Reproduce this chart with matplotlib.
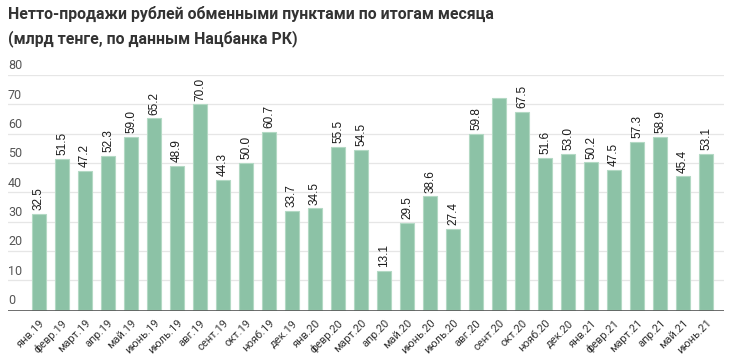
import matplotlib
matplotlib.use("Agg")
import matplotlib.pyplot as plt
import matplotlib.transforms as mtransforms

plt.rcParams['font.family'] = ['Roboto', 'DejaVu Sans']

months = ['янв.19', 'февр.19', 'март.19', 'апр.19', 'май.19', 'июнь.19',
          'июль.19', 'авг.19', 'сент.19', 'окт.19', 'нояб.19', 'дек.19',
          'янв.20', 'февр.20', 'март.20', 'апр.20', 'май.20', 'июнь.20',
          'июль.20', 'авг.20', 'сент.20', 'окт.20', 'нояб.20', 'дек.20',
          'янв.21', 'февр.21', 'март.21', 'апр.21', 'май.21', 'июнь.21']
values = [32.5, 51.5, 47.2, 52.3, 59.0, 65.2, 48.9, 70.0, 44.3, 50.0, 60.7, 33.7,
          34.5, 55.5, 54.5, 13.1, 29.5, 38.6, 27.4, 59.8, 72.0, 67.5, 51.6, 53.0,
          50.2, 47.5, 57.3, 58.9, 45.4, 53.1]
# в оригинале у сент.20 нет подписи
value_labels = ['32.5', '51.5', '47.2', '52.3', '59.0', '65.2', '48.9', '70.0',
                '44.3', '50.0', '60.7', '33.7', '34.5', '55.5', '54.5', '13.1',
                '29.5', '38.6', '27.4', '59.8', '', '67.5', '51.6', '53.0',
                '50.2', '47.5', '57.3', '58.9', '45.4', '53.1']
y_ticks = [0, 10, 20, 30, 40, 50, 60, 70, 80]

title_1 = 'Нетто-продажи рублей обменными пунктами по итогам месяца'
title_2 = '(млрд тенге, по данным Нацбанка РК)'

fig = plt.figure(figsize=(7.3, 3.6), dpi=100)
ax = fig.add_axes([8 / 730, 1 - 311 / 360, 716 / 730, (311 - 75) / 360])

x = list(range(len(values)))
ax.bar(x, values, width=0.61, color='#8cc2a6', edgecolor='#b3d9c4', linewidth=0.8, zorder=2)

ax.set_xlim(-1.348, 29.78)
ax.set_ylim(-0.5, 80)

# сетка
for t in y_ticks[1:]:
    ax.axhline(t, color='#e6e6e6', linewidth=0.9, zorder=0)
ax.axhline(-0.5, color='#555555', linewidth=1.2, zorder=3)

# подписи оси Y над линиями сетки
trans = mtransforms.blended_transform_factory(ax.transAxes, ax.transData)
for t in y_ticks:
    ax.text(0.0, t + 0.9, str(t), transform=trans, ha='left', va='bottom',
            fontsize=9, color='#555555')

# подписи значений
for xi, v, lab in zip(x, values, value_labels):
    if lab:
        ax.text(xi, v + 1.3, lab, rotation=90, ha='center', va='bottom',
                fontsize=8.5, color='#1a1a1a', family=['Liberation Sans', 'DejaVu Sans'])

ax.set_xticks(x)
ax.set_xticklabels(months, rotation=45, ha='right', rotation_mode='anchor',
                   fontsize=8, color='#333333')
ax.tick_params(axis='x', length=0, pad=5)
ax.set_yticks([])
for s in ax.spines.values():
    s.set_visible(False)

fig.text(8 / 730, 1 - 14 / 360, title_1, fontsize=11.4, fontweight='bold',
         color='#333333', va='center', ha='left')
fig.text(8 / 730, 1 - 39 / 360, title_2, fontsize=11.4, fontweight='bold',
         color='#333333', va='center', ha='left')

fig.savefig('out.png', dpi=100)
